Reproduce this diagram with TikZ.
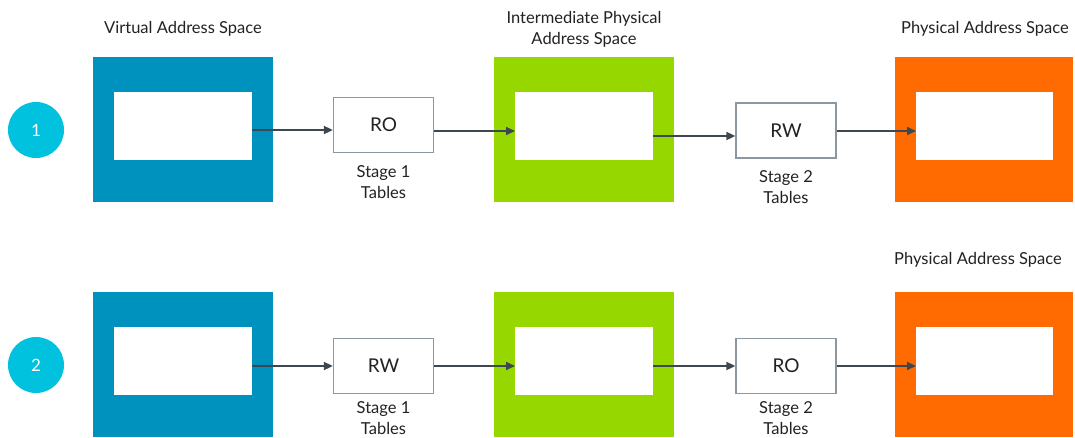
\documentclass[tikz,border=0pt]{standalone}
\usepackage{fontspec}
\setmainfont{Lato}
\usetikzlibrary{arrows.meta}
\definecolor{vblue}{HTML}{0092BE}
\definecolor{igreen}{HTML}{97D700}
\definecolor{porange}{HTML}{FF6B00}
\definecolor{ccyan}{HTML}{00C1DE}
\definecolor{arrcol}{HTML}{3C4750}
\definecolor{boxgray}{HTML}{8C979F}
\definecolor{txt}{HTML}{222222}
\tikzset{
  outerbox/.style={draw=none, minimum width=180pt, minimum height=145pt, inner sep=0pt, anchor=north west},
  innerbox/.style={fill=white, draw=none, minimum width=138pt, minimum height=68pt, inner sep=0pt, anchor=north west},
  tblbox/.style={draw=boxgray, line width=1.3pt, fill=white, minimum width=100pt, minimum height=55pt, inner sep=0pt, font=\fontsize{19}{22}\selectfont, text=txt},
  numcirc/.style={circle, fill=ccyan, minimum size=56pt, inner sep=0pt, text=white, font=\fontsize{17}{20}\selectfont},
  lbl/.style={text=txt, font=\fontsize{16.5}{21}\selectfont, align=center, inner sep=0pt},
  arr/.style={draw=arrcol, line width=1.7pt, -{Triangle[length=9pt,width=8pt]}}
}
\begin{document}
\begin{tikzpicture}[x=1pt,y=-1pt]
\useasboundingbox (0,0) rectangle (1075,437);
\clip (0,0) rectangle (1075,437);
\fill[white] (0,0) rectangle (1075,437);
% Row 1
\node[numcirc] (c1) at (36,130) {1};
\node[outerbox, fill=vblue] (vo1) at (93,57) {};
\node[innerbox] (vi1) at (114,92) {};
\node[outerbox, fill=igreen] (go1) at (494,57) {};
\node[innerbox] (gi1) at (515,92) {};
\node[outerbox, fill=porange, minimum width=178pt] (po1) at (895,57) {};
\node[innerbox, minimum width=137pt] (pi1) at (916,92) {};
\node[tblbox] (t11) at (383.5,125) {RO};
\node[tblbox] (t21) at (786,130.5) {RW};
\node[lbl] (l11) at (383.5,182) {Stage 1\\Tables};
\node[lbl] (l21) at (786,187) {Stage 2\\Tables};
\node[lbl] (h1) at (183,29) {Virtual Address Space};
\node[lbl] (h2) at (584,29) {Intermediate Physical\\Address Space};
\node[lbl] (h3) at (985,29) {Physical Address Space};
\draw[arr] (vi1.east |- 0,130) -- (t11.west |- 0,130);
\draw[arr] (t11.east |- 0,131) -- (gi1.west |- 0,131);
\draw[arr] (gi1.east |- 0,136) -- (t21.west |- 0,136);
\draw[arr] (t21.east |- 0,131) -- (pi1.west |- 0,131);
% Row 2
\node[numcirc] (c2) at (36,365) {2};
\node[outerbox, fill=vblue] (vo2) at (93,292) {};
\node[innerbox] (vi2) at (114,327) {};
\node[outerbox, fill=igreen] (go2) at (494,292) {};
\node[innerbox] (gi2) at (515,327) {};
\node[outerbox, fill=porange, minimum width=178pt] (po2) at (895,292) {};
\node[innerbox, minimum width=137pt] (pi2) at (916,327) {};
\node[tblbox] (t12) at (383.5,366) {RW};
\node[tblbox] (t22) at (786,366) {RO};
\node[lbl] (l12) at (383.5,418) {Stage 1\\Tables};
\node[lbl] (l22) at (786,418) {Stage 2\\Tables};
\node[lbl] (h4) at (978,260) {Physical Address Space};
\draw[arr] (vi2.east |- 0,366) -- (t12.west |- 0,366);
\draw[arr] (t12.east |- 0,366) -- (gi2.west |- 0,366);
\draw[arr] (gi2.east |- 0,366) -- (t22.west |- 0,366);
\draw[arr] (t22.east |- 0,366) -- (pi2.west |- 0,366);
\end{tikzpicture}
\end{document}
